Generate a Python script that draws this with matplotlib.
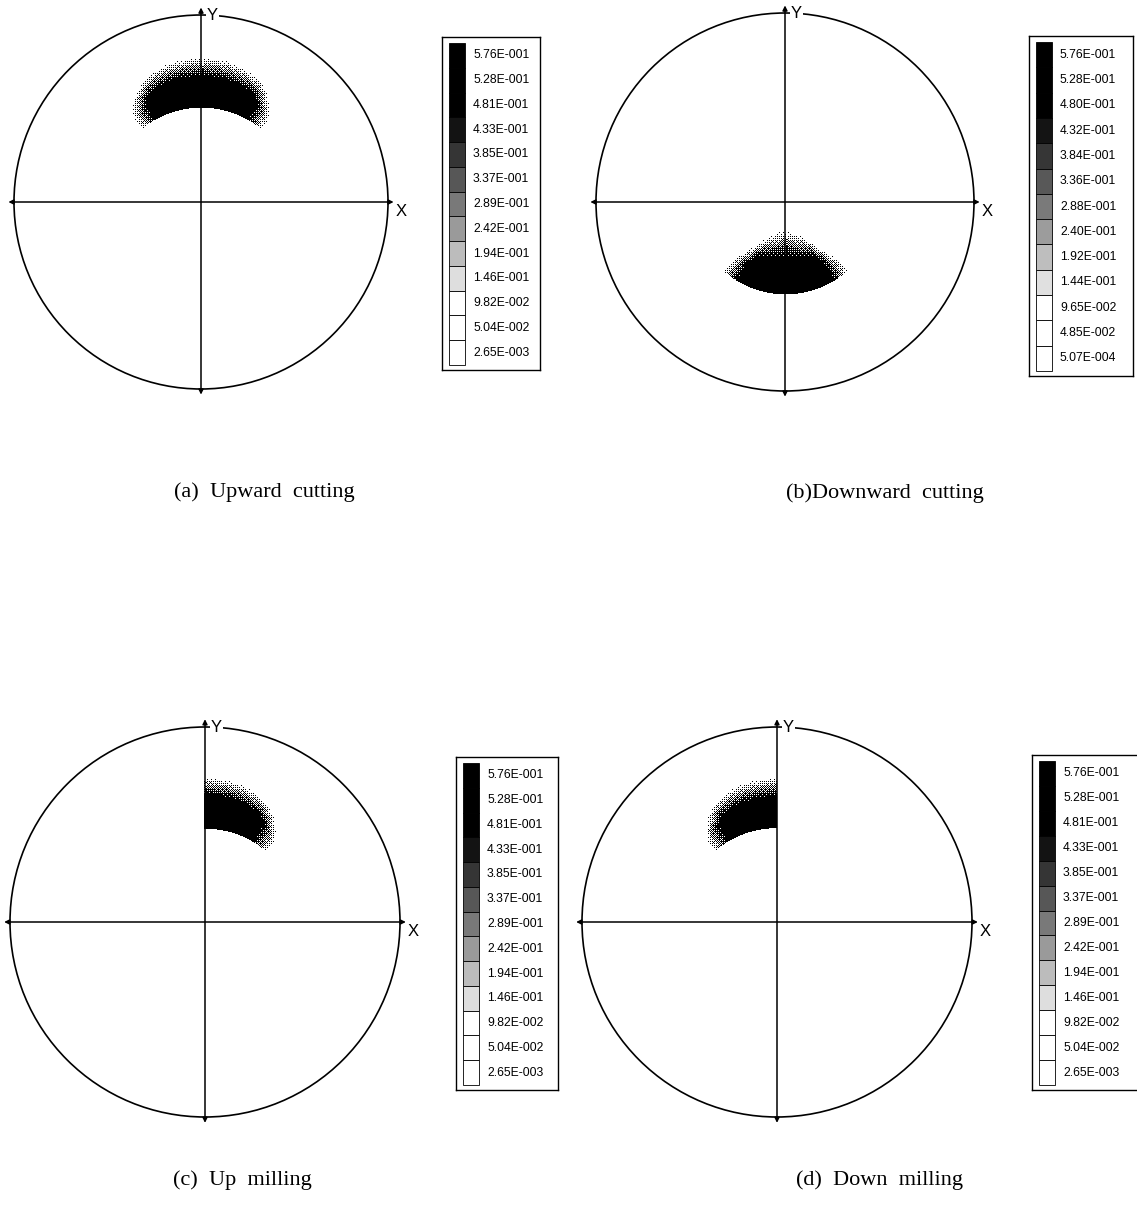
import numpy as np
import matplotlib
matplotlib.use('Agg')
import matplotlib.pyplot as plt

W, H, DPI = 1137, 1225, 100

# legend labels
labels_acd = ['5.76E-001', '5.28E-001', '4.81E-001', '4.33E-001', '3.85E-001',
              '3.37E-001', '2.89E-001', '2.42E-001', '1.94E-001', '1.46E-001',
              '9.82E-002', '5.04E-002', '2.65E-003']
labels_b = ['5.76E-001', '5.28E-001', '4.80E-001', '4.32E-001', '3.84E-001',
            '3.36E-001', '2.88E-001', '2.40E-001', '1.92E-001', '1.44E-001',
            '9.65E-002', '4.85E-002', '5.07E-004']
captions = ['(a)  Upward  cutting', '(b)Downward  cutting',
            '(c)  Up  milling', '(d)  Down  milling']

# contact zone of each panel (radius as fraction of the circle, angles in degrees)
zone_edge_r = [0.50, 0.49, 0.477, 0.48]
zone_depth = [0.30, 0.38, 0.29, 0.29]
zone_dir = [1, -1, 1, 1]          # +1 grows outward from edge, -1 inward
zone_centre = [90, 270, 90, 90]
zone_halfwidth = [43, 46, 45, 45]
zone_side = ['both', 'both', 'right', 'left']
zone_fuzz = [0.55, 0.6, 0.5, 0.55]
peak = 0.576

# layout (pixels): circle centre and radius, legend box
centres = [(201, 202), (785, 202), (205, 922), (777, 922)]
radii = [187, 189, 195, 195]
legend_boxes = [(442, 37, 540, 370), (1029, 36, 1133, 376),
                (456, 757, 558, 1090), (1032, 755, 1145, 1090)]
caption_pos = [(264, 492), (885, 493), (242, 1180), (880, 1180)]

LIM = 1.07
BAYER = (np.array([[0, 8, 2, 10], [12, 4, 14, 6],
                   [3, 11, 1, 9], [15, 7, 13, 5]]) + 0.5) / 16.0


def darkness(v):
    return np.clip((v - 0.1) / 0.36, 0, 1)


def zone_field(X, Y, i):
    r = np.hypot(X, Y)
    th = np.degrees(np.arctan2(Y, X)) % 360
    dth = (th - zone_centre[i] + 180) % 360 - 180
    at = np.abs(dth) / zone_halfwidth[i]
    ok = at <= 1
    if zone_side[i] == 'right':
        ok &= dth <= 0
    elif zone_side[i] == 'left':
        ok &= dth >= 0
    h = zone_depth[i] * np.sqrt(np.clip(1 - at ** 2, 0, 1))
    dist = zone_dir[i] * (r - zone_edge_r[i])
    ur = dist / np.maximum(h, 1e-6)
    ok &= (dist >= 0) & (ur <= 1)
    fr = np.clip((1 - ur) / zone_fuzz[i], 0, 1)
    ft = np.clip((1 - at) / 0.4, 0, 1)
    return np.where(ok, peak * fr * ft, 0.0)


fig = plt.figure(figsize=(W / DPI, H / DPI), dpi=DPI)

for i in range(4):
    cx, cy = centres[i]
    R = radii[i]
    size = 2 * LIM * R
    ax = fig.add_axes([(cx - LIM * R) / W, 1 - (cy + LIM * R) / H, size / W, size / H])
    ax.set_xlim(-LIM, LIM)
    ax.set_ylim(-LIM, LIM)
    ax.set_aspect('equal')
    ax.axis('off')

    # stippled contact zone (ordered dither of the value field)
    n = int(round(size))
    g = np.linspace(-LIM, LIM, n)
    X, Y = np.meshgrid(g, g[::-1])
    d = darkness(zone_field(X, Y, i))
    thr = np.tile(BAYER, (n // 4 + 1, n // 4 + 1))[:n, :n]
    black = d > thr
    rgba = np.zeros((n, n, 4))
    rgba[..., 3] = black
    ax.imshow(rgba, extent=(-LIM, LIM, -LIM, LIM), interpolation='nearest', zorder=2)

    ax.add_patch(plt.Circle((0, 0), 1.0, fill=False, lw=1.2, color='k', zorder=3))
    arrow = dict(arrowstyle='<|-|>', lw=1.1, color='k', mutation_scale=7,
                 shrinkA=0, shrinkB=0)
    ax.annotate('', xy=(-1.03, 0), xytext=(1.03, 0), arrowprops=arrow, zorder=4)
    ax.annotate('', xy=(0, -1.03), xytext=(0, 1.04), arrowprops=arrow, zorder=4)
    ax.text(0.06, 1.0, 'Y', ha='center', va='center', fontsize=12,
            family='Liberation Sans', zorder=5,
            bbox=dict(boxstyle='square,pad=0.05', fc='white', ec='none'))
    ax.text(1.04, -0.05, 'X', ha='left', va='center', fontsize=12,
            family='Liberation Sans', zorder=5)

    # legend
    labels = labels_b if i == 1 else labels_acd
    x0, y0, x1, y1 = legend_boxes[i]
    bw, bh = x1 - x0, y1 - y0
    lax = fig.add_axes([x0 / W, 1 - y1 / H, bw / W, bh / H])
    lax.set_xlim(0, bw)
    lax.set_ylim(bh, 0)
    lax.set_xticks([])
    lax.set_yticks([])
    for sp in lax.spines.values():
        sp.set_linewidth(1.0)
    step = (bh - 11) / len(labels)
    ys = 6 + step * (np.arange(len(labels)) + 0.5)
    vals = np.array([float(s) for s in labels])
    shades = [str(1 - dk) for dk in darkness(vals)]
    lax.barh(ys, 16, left=7, height=step, color=shades, edgecolor='k', linewidth=0.6)
    for y, s in zip(ys, labels):
        lax.text(31, y, s, ha='left', va='center', fontsize=8.7, family='Liberation Sans')

    px, py = caption_pos[i]
    fig.text(px / W, 1 - py / H, captions[i], ha='center', va='center',
             fontsize=16, family='Liberation Serif')

fig.savefig('out.png', dpi=DPI)
